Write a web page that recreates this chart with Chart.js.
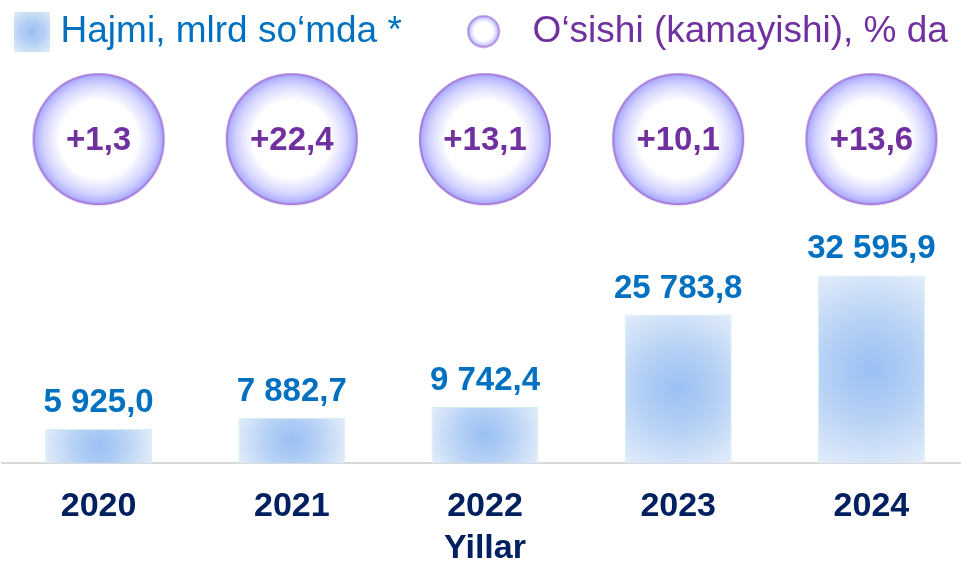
<!DOCTYPE html>
<html>
<head>
<meta charset="utf-8">
<script src="https://cdn.jsdelivr.net/npm/chart.js@4.4.1/dist/chart.umd.min.js"></script>
<style>
    html, body { margin: 0; padding: 0; background: #ffffff; overflow: hidden; }
    #wrap { width: 968px; height: 562px; position: relative; }
</style>
</head>
<body>
<div id="wrap"><canvas id="volumeChart"></canvas></div>
<script>
// Data
const years = ["2020", "2021", "2022", "2023", "2024"];
const volume = [5925.0, 7882.7, 9742.4, 25783.8, 32595.9];   // mlrd so'm
const growth = [1.3, 22.4, 13.1, 10.1, 13.6];                // %

const volumeLabel = "Hajmi, mlrd so\u2018mda *";
const growthLabel = "O\u2018sishi (kamayishi), % da";
const axisTitle = "Yillar";

const FONT = "'Liberation Sans', Arial, sans-serif";
const BLUE = "#0070C0";
const PURPLE = "#7030A0";
const NAVY = "#002060";
const BAR_PCT = 0.554;

function fmtVolume(v) {
    const parts = v.toFixed(1).split(".");
    return parts[0].replace(/\B(?=(\d{3})+(?!\d))/g, " ") + "," + parts[1];
}

function fmtGrowth(g) {
    return (g >= 0 ? "+" : "") + g.toFixed(1).replace(".", ",");
}

function barGradient(ctx, cx, cy, r) {
    const g = ctx.createRadialGradient(cx, cy, 0, cx, cy, r);
    g.addColorStop(0, "#99C0F3");
    g.addColorStop(0.45, "#B6D1F5");
    g.addColorStop(1, "#E3EDFA");
    return g;
}

// square legend swatch
function makeSquare(w, h) {
    const c = document.createElement("canvas");
    c.width = w; c.height = h;
    const ctx = c.getContext("2d");
    ctx.fillStyle = barGradient(ctx, w / 2, h / 2, Math.hypot(w, h) / 2);
    ctx.fillRect(0, 0, w, h);
    return c;
}

// bubble with white centre and lavender rim
function makeBubble(size, border) {
    const c = document.createElement("canvas");
    c.width = size; c.height = size;
    const ctx = c.getContext("2d");
    const r = size / 2 - border;
    const g = ctx.createRadialGradient(size / 2, size / 2, 0, size / 2, size / 2, r);
    g.addColorStop(0, "#FFFFFF");
    g.addColorStop(0.6, "#FFFFFF");
    g.addColorStop(0.85, "#D4D4FF");
    g.addColorStop(1, "#A8A8FF");
    ctx.beginPath();
    ctx.arc(size / 2, size / 2, r, 0, Math.PI * 2);
    ctx.fillStyle = g;
    ctx.fill();
    ctx.lineWidth = border;
    ctx.strokeStyle = "#A57AD8";
    ctx.stroke();
    return c;
}

const bubbleImg = makeBubble(134, 2);
const legendSquare = makeSquare(36, 40);
const legendCircle = makeBubble(34, 1.5);

const growthRows = years.map((yr, i) => ({ x: yr, y: "growth", value: growth[i] }));

const valueLabels = {
    id: "valueLabels",
    afterDatasetsDraw(chart) {
        const ctx = chart.ctx;
        ctx.save();
        ctx.textAlign = "center";
        ctx.font = "bold 33px " + FONT;

        ctx.fillStyle = BLUE;
        ctx.textBaseline = "alphabetic";
        chart.getDatasetMeta(0).data.forEach((bar, i) => {
            ctx.fillText(fmtVolume(volume[i]), bar.x, bar.y - 17);
        });

        ctx.fillStyle = PURPLE;
        ctx.textBaseline = "middle";
        chart.getDatasetMeta(1).data.forEach((pt, i) => {
            ctx.fillText(fmtGrowth(growth[i]), pt.x, pt.y + 2);
        });
        ctx.restore();
    }
};

new Chart(document.getElementById("volumeChart"), {
    data: {
        labels: years,
        datasets: [
            {
                type: "bar",
                label: volumeLabel,
                data: volume,
                yAxisID: "y",
                barPercentage: BAR_PCT,
                categoryPercentage: 1,
                borderWidth: 1,
                borderColor: "rgba(205, 240, 236, 0.9)",
                backgroundColor: function (context) {
                    const chart = context.chart;
                    if (!chart.chartArea || context.type !== "data") return "#C2D8F6";
                    const xs = chart.scales.x, ys = chart.scales.y;
                    const cx = xs.getPixelForValue(context.dataIndex);
                    const top = ys.getPixelForValue(volume[context.dataIndex]);
                    const base = ys.getPixelForValue(0);
                    const w = xs.width / years.length * BAR_PCT;
                    return barGradient(chart.ctx, cx, (top + base) / 2, Math.hypot(w / 2, (base - top) / 2));
                }
            },
            {
                type: "line",
                label: growthLabel,
                data: growthRows,
                yAxisID: "y2",
                showLine: false,
                clip: false,
                pointStyle: bubbleImg,
                pointRadius: 66,
                pointHoverRadius: 66
            }
        ]
    },
    options: {
        responsive: true,
        maintainAspectRatio: false,
        animation: false,
        layout: { autoPadding: false, padding: { left: 2, right: 0, top: 3, bottom: 0 } },
        plugins: {
            tooltip: { enabled: false },
            legend: {
                position: "top",
                labels: {
                    usePointStyle: true,
                    boxWidth: 20,
                    boxHeight: 37,
                    padding: 10,
                    font: { family: FONT, size: 37 },
                    generateLabels: function () {
                        return [
                            { text: volumeLabel + "      ", fontColor: BLUE, pointStyle: legendSquare, datasetIndex: 0, hidden: false, lineWidth: 0 },
                            { text: "  " + growthLabel, fontColor: PURPLE, pointStyle: legendCircle, datasetIndex: 1, hidden: false, lineWidth: 0 }
                        ];
                    }
                }
            }
        },
        scales: {
            x: {
                grid: { display: true, drawOnChartArea: false, drawTicks: false },
                border: { display: true, color: "#D9D9D9", width: 2 },
                ticks: { color: NAVY, padding: 23, font: { family: FONT, size: 34, weight: "bold" } },
                title: {
                    display: true,
                    text: axisTitle,
                    color: NAVY,
                    padding: { top: 0, bottom: -7 },
                    font: { family: FONT, size: 34, weight: "bold" }
                },
                afterFit: function (scale) { scale.height = 99; }
            },
            y: {
                type: "linear",
                display: false,
                position: "left",
                min: 0,
                max: 42500,
                stack: "rows",
                stackWeight: 0.607
            },
            y2: {
                type: "category",
                labels: ["growth"],
                offset: true,
                display: false,
                position: "left",
                stack: "rows",
                stackWeight: 0.393
            }
        }
    },
    plugins: [valueLabels]
});
</script>
</body>
</html>
